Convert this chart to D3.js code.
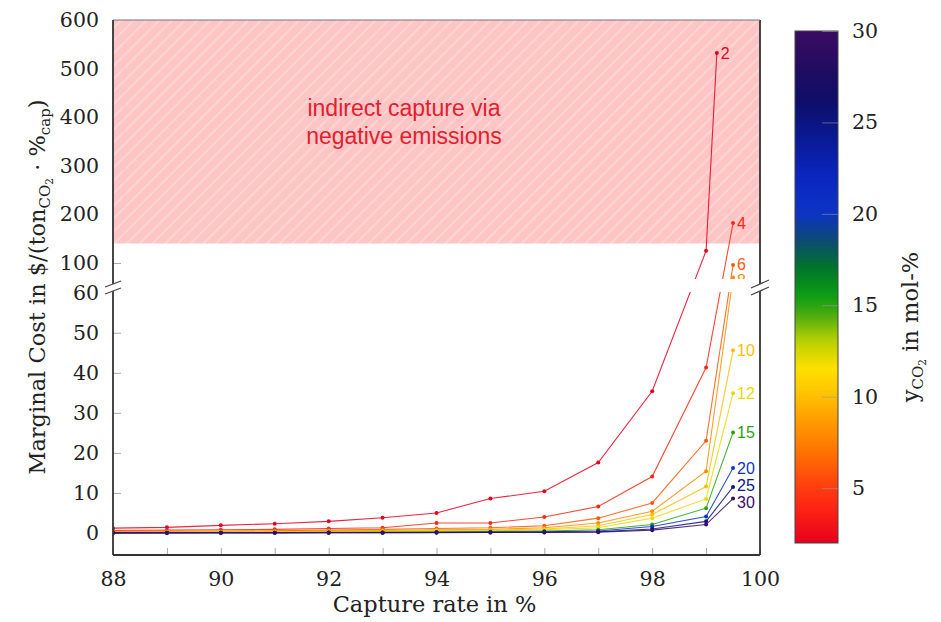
<!DOCTYPE html>
<html><head><meta charset="utf-8">
<script src="https://cdn.jsdelivr.net/npm/d3@7"></script>
<style>body{margin:0;background:#fff}</style>
</head><body>
<svg id="chart" width="941" height="622"></svg>
<script>
// ---- data ----
const captureRates  = [88,89,90,91,92,93,94,95,96,97,98,99,99.5];
const captureRates2 = [88,89,90,91,92,93,94,95,96,97,98,99,99.2];
const yCO2Levels = [2,4,6,8,10,12,15,20,25,30];
const cost_2  = [1.2,1.4,1.9,2.3,2.9,3.8,5.0,8.6,10.4,17.6,35.4,125,532];
const cost_4  = [0.6,0.7,0.8,0.9,1.1,1.3,2.5,2.5,4.0,6.6,14.1,41.3,182];
const cost_6  = [0.3,0.35,0.45,0.55,0.7,0.9,1.1,1.3,1.8,3.7,7.5,23.0,96];
const cost_8  = [0.2,0.25,0.3,0.4,0.5,0.6,0.8,0.9,1.3,2.5,5.4,15.4,70];
const cost_10 = [0.15,0.2,0.25,0.3,0.35,0.45,0.6,0.7,1.0,1.8,4.6,11.6,45.6];
const cost_12 = [0.1,0.15,0.2,0.2,0.25,0.35,0.45,0.55,0.8,1.3,3.7,8.5,34.9];
const cost_15 = [0.05,0.1,0.1,0.12,0.15,0.2,0.3,0.35,0.5,0.8,2.1,6.2,25.1];
const cost_20 = [0.03,0.05,0.06,0.08,0.1,0.12,0.18,0.22,0.3,0.5,1.6,4.1,16.2];
const cost_25 = [0.02,0.03,0.04,0.05,0.06,0.08,0.1,0.14,0.2,0.3,1.0,2.9,11.5];
const cost_30 = [0.01,0.02,0.03,0.03,0.04,0.05,0.07,0.1,0.12,0.2,0.7,2.1,8.6];
const seriesCosts = [cost_2,cost_4,cost_6,cost_8,cost_10,cost_12,cost_15,cost_20,cost_25,cost_30];
const xTicks = [88,89,90,91,92,93,94,95,96,97,98,99,100];
const yTicksLow = [0,10,20,30,40,50,60];
const yTicksHigh = [100,200,300,400,500,600];
const cbTicks = [5,10,15,20,25,30];
const negEmissionThreshold = 140;
const cmapValues = [2,4,5,7,9,10,11.5,13,14.5,15.5,17,18.5,20,22,24,26,28,30];
const cmapColors = ["#e6001e","#ff2612","#ff3c10","#ff7400","#ffa400","#ffbf00","#ffe000","#bcd200","#4aaa10","#0c9e12","#007628","#0c4a70","#0c34c4","#0a26c0","#0a1a98","#0c0e6a","#220c60","#3a0c64"];

// ---- layout ----
const L = 113, R = 760, T = 20, B = 555;
const svg = d3.select("#chart");
const serif = "DejaVu Serif";

const x = d3.scaleLinear().domain([88,100]).range([L,R]);
const yLow = d3.scaleLinear().domain([-5.5,60]).range([B,292.7]);
const yHigh = d3.scaleLinear().domain([60,600]).range([282.4,T]);
const y = v => v <= 60 ? yLow(v) : yHigh(v);
const cmap = d3.scaleLinear().domain(cmapValues).range(cmapColors).interpolate(d3.interpolateRgb);

// defs
const defs = svg.append("defs");
const pat = defs.append("pattern").attr("id","hatch").attr("patternUnits","userSpaceOnUse")
  .attr("width",9).attr("height",9).attr("patternTransform","rotate(45)");
pat.append("rect").attr("width",9).attr("height",9).attr("fill","#ffc4c4");
pat.append("rect").attr("x",0).attr("width",2).attr("height",9).attr("fill","#ffd4d4");
defs.append("clipPath").attr("id","plotclip").append("rect")
  .attr("x",L).attr("y",T).attr("width",R-L).attr("height",B-T);

// ticks (inward) - axes
const axLow = svg.append("g").attr("transform",`translate(${L},0)`)
  .call(d3.axisLeft(yLow).tickValues(yTicksLow).tickSize(-8).tickPadding(14));
const axHigh = svg.append("g").attr("transform",`translate(${L},0)`)
  .call(d3.axisLeft(yHigh).tickValues(yTicksHigh).tickSize(-8).tickPadding(14));
const axX = svg.append("g").attr("transform",`translate(0,${B})`)
  .call(d3.axisBottom(x).tickValues(xTicks).tickSize(-7).tickPadding(16)
    .tickFormat(d => d % 2 === 0 ? d : ""));
[axLow,axHigh,axX].forEach(g => {
  g.select(".domain").remove();
  g.selectAll(".tick line").attr("stroke","#aaa").attr("stroke-width",1);
  g.selectAll(".tick text").attr("font-family",serif).attr("font-size",20.5).attr("fill","#222");
});
axLow.selectAll(".tick").filter(d => d === 60).select("line").remove();

// pink region
svg.append("rect").attr("x",L).attr("y",T).attr("width",R-L)
  .attr("height",y(negEmissionThreshold)-T).attr("fill","url(#hatch)");
const txt = svg.append("text").attr("font-family","Liberation Sans").attr("font-size",23)
  .attr("fill","#e2202e").attr("text-anchor","middle");
txt.append("tspan").attr("x",404).attr("y",116).text("indirect capture via");
txt.append("tspan").attr("x",404).attr("y",144).text("negative emissions");

// series
const plot = svg.append("g").attr("clip-path","url(#plotclip)");
const labelNudge = {2:0, 4:0, 6:-1, 8:2, 10:0, 12:0, 15:0, 20:0, 25:-2, 30:3};
seriesCosts.forEach((vals,i) => {
  const xs = i === 0 ? captureRates2 : captureRates;
  const pts = vals.map((v,j) => [xs[j], v]);
  const c = cmap(yCO2Levels[i]);
  plot.append("path").datum(pts)
    .attr("d", d3.line().x(d => x(d[0])).y(d => y(d[1])))
    .attr("fill","none").attr("stroke",c).attr("stroke-width",1.1).attr("stroke-opacity",0.85);
  plot.selectAll(null).data(pts).enter().append("circle")
    .attr("cx",d => x(d[0])).attr("cy",d => y(d[1])).attr("r",2).attr("fill",c);
  const last = pts[pts.length-1];
  svg.append("text").attr("x",x(last[0])+4).attr("y",y(last[1])+6+labelNudge[yCO2Levels[i]])
    .attr("font-family","Liberation Sans").attr("font-size",16).attr("fill",c)
    .text(yCO2Levels[i]);
});

// white break band
svg.append("rect").attr("x",L+1).attr("y",279).attr("width",R-L-2).attr("height",13).attr("fill","#fff");

// frame
const fr = svg.append("g").attr("stroke","#333").attr("stroke-width",1.8).attr("fill","none");
fr.append("line").attr("x1",L).attr("x2",L).attr("y1",T).attr("y2",B);
fr.append("line").attr("x1",R).attr("x2",R).attr("y1",T).attr("y2",B);
fr.append("line").attr("x1",L).attr("x2",R).attr("y1",B).attr("y2",B);
fr.append("line").attr("x1",L).attr("x2",R).attr("y1",T).attr("y2",T).attr("stroke","#777").attr("stroke-width",1.2);

// axis break marks
function breakMark(cx, w, h) {
  const yb1 = 284, yb2 = 291;
  svg.append("polygon")
    .attr("points",`${cx-w},${yb1+h} ${cx+w},${yb1-h} ${cx+w},${yb2-h} ${cx-w},${yb2+h}`)
    .attr("fill","#fff");
  [yb1,yb2].forEach(yy => svg.append("line")
    .attr("x1",cx-w).attr("y1",yy+h).attr("x2",cx+w).attr("y2",yy-h)
    .attr("stroke","#444").attr("stroke-width",1.2));
}
breakMark(L, 8, 3);
breakMark(R, 9, 4);

// axis titles
svg.append("text").attr("x",(L+R)/2 - 2).attr("y",612).attr("text-anchor","middle")
  .attr("font-family",serif).attr("font-size",22.5).attr("fill","#222").text("Capture rate in %");
const yt = svg.append("text").attr("transform","translate(45,287) rotate(-90)")
  .attr("text-anchor","middle").attr("font-family",serif).attr("font-size",22.5).attr("fill","#222");
yt.append("tspan").text("Marginal Cost in $/(ton");
yt.append("tspan").attr("font-size",15).attr("dy",5).text("CO");
yt.append("tspan").attr("font-size",10.5).attr("dy",3).text("2");
yt.append("tspan").attr("dy",-8).text(" · %");
yt.append("tspan").attr("font-size",15).attr("dy",5).text("cap");
yt.append("tspan").attr("dy",-5).text(")");

// colorbar
const cbL = 795, cbW = 43;
const cbY = d3.scaleLinear().domain([2,30]).range([543,31]);
const grad = defs.append("linearGradient").attr("id","cbgrad")
  .attr("x1",0).attr("y1",1).attr("x2",0).attr("y2",0);
d3.range(0,1.0001,0.02).forEach(t => {
  grad.append("stop").attr("offset",t).attr("stop-color",cmap(2+28*t));
});
svg.append("rect").attr("x",cbL).attr("y",cbY(30)).attr("width",cbW).attr("height",cbY(2)-cbY(30))
  .attr("fill","url(#cbgrad)").attr("stroke","#444").attr("stroke-width",1);
const cbAx = svg.append("g").attr("transform",`translate(${cbL+cbW},0)`)
  .call(d3.axisRight(cbY).tickValues(cbTicks).tickSize(-16).tickPadding(14));
cbAx.select(".domain").remove();
cbAx.selectAll(".tick line").attr("stroke","#999").attr("stroke-opacity",0.6);
cbAx.selectAll(".tick text").attr("font-family",serif).attr("font-size",20.5).attr("fill","#222");
const ct = svg.append("text").attr("transform","translate(918,327) rotate(-90)")
  .attr("text-anchor","middle").attr("font-family",serif).attr("font-size",22.5).attr("fill","#222");
ct.append("tspan").text("y");
ct.append("tspan").attr("font-size",15).attr("dy",5).text("CO");
ct.append("tspan").attr("font-size",10.5).attr("dy",3).text("2");
ct.append("tspan").attr("dy",-8).text(" in mol-%");
</script>
</body></html>
